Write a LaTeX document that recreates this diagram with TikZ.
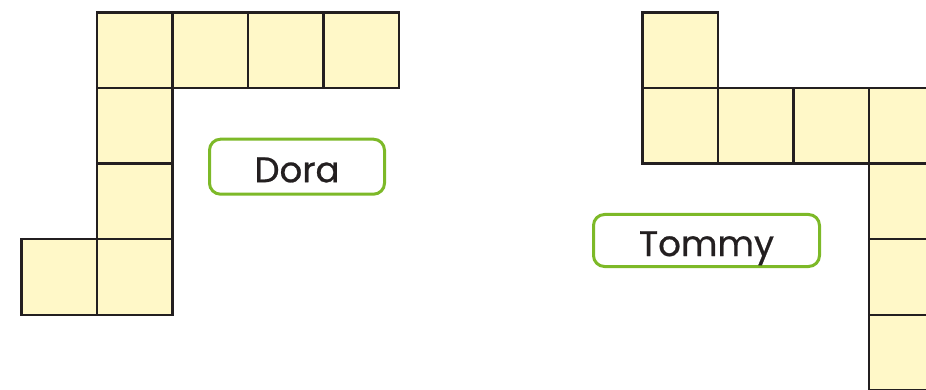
\documentclass[tikz,border=0pt]{standalone}
\usepackage{fontspec}
\setmainfont{Poppins}
\newfontfamily\labelfont[FakeBold=0.7]{Poppins}
\definecolor{cellfill}{HTML}{FFF8C8}
\definecolor{ink}{HTML}{231F20}
\definecolor{lgreen}{HTML}{7DB928}
\begin{document}
\begin{tikzpicture}[x=1pt,y=-1pt,
  cell/.style={draw=ink,fill=cellfill,line width=2.4pt,minimum size=75.5pt,inner sep=0pt,outer sep=0pt,anchor=north west,rectangle},
  namebox/.style={draw=lgreen,line width=3pt,rounded corners=11pt,inner sep=0pt,text=ink,text height=31pt,text depth=0pt,font=\labelfont\fontsize{35.5}{38}\selectfont}]
\useasboundingbox (0,0) rectangle (926,390);
\clip (0,0) rectangle (926,390);
% Dora
\node[cell] (d1) at (97,12.7) {};
\node[cell] (d2) at (172.5,12.7) {};
\node[cell] (d3) at (248,12.7) {};
\node[cell] (d4) at (323.5,12.7) {};
\node[cell] (d5) at (97,88.2) {};
\node[cell] (d6) at (97,163.7) {};
\node[cell] (d7) at (97,239.2) {};
\node[cell] (d8) at (21.5,239.2) {};
% Tommy
\node[cell] (t1) at (642.5,12.7) {};
\node[cell] (t2) at (642.5,88.2) {};
\node[cell] (t3) at (718,88.2) {};
\node[cell] (t4) at (793.5,88.2) {};
\node[cell] (t5) at (869,88.2) {};
\node[cell] (t6) at (869,163.7) {};
\node[cell] (t7) at (869,239.2) {};
\node[cell] (t8) at (869,314.7) {};
% labels
\node[namebox,minimum width=175pt,minimum height=55pt] (dora) at (297,166.7) {Dora};
\node[namebox,minimum width=226pt,minimum height=52pt] (tommy) at (706.5,240.5) {Tommy};
\end{tikzpicture}
\end{document}
